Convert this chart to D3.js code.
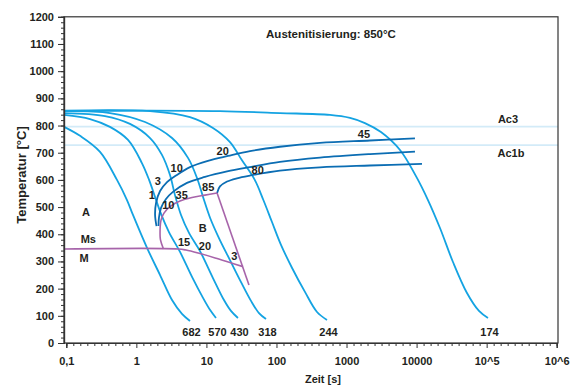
<!DOCTYPE html>
<html>
<head>
<meta charset="utf-8">
<script src="https://cdn.jsdelivr.net/npm/d3@7"></script>
<style>
  body { margin: 0; background: #fff; }
  text { font-family: "Liberation Sans", Arial, sans-serif; font-weight: bold; fill: #231f20; }
</style>
</head>
<body>
<svg id="chart"></svg>
<script>
// cooling curves (time s, temperature °C), labelled with hardness at the end
const hardness = ["682", "570", "430", "318", "244", "174"];

const t682 = [0.093, 0.157, 0.303, 0.529, 0.735, 0.895, 1.42, 2.18, 3.23, 4.48, 5.83];
const T682 = [795, 762, 703, 600, 526, 471, 350, 250, 158, 107, 81];
const t570 = [0.093, 0.218, 0.42, 0.76, 1.2, 1.52, 1.85, 2.25, 2.92, 4.2, 6.23, 8.94, 11.3, 13.7];
const T570 = [839, 824, 795, 747, 662, 600, 537, 475, 408, 335, 243, 166, 121, 92];
const t430 = [0.093, 0.357, 0.811, 1.57, 2.32, 3.02, 3.56, 4.34, 5.64, 8.1, 12.4, 17.8, 22.4, 28.2];
const T430 = [846, 835, 806, 754, 692, 618, 544, 471, 405, 338, 239, 158, 118, 92];
const t318 = [0.093, 0.42, 1.33, 3.23, 5.46, 7.34, 9.24, 11.3, 15.1, 21.7, 31.2, 43.3, 56.3, 70.9];
const T318 = [853, 846, 813, 754, 681, 607, 526, 460, 386, 305, 224, 155, 110, 88];
const t244 = [0.093, 1.57, 5.83, 12.4, 21.7, 32, 49, 65, 86.3, 116, 167, 255, 379, 526];
const T244 = [855, 853, 831, 791, 739, 673, 600, 526, 445, 361, 276, 188, 114, 85];
const t174 = [0.093, 1.57, 15.6, 112, 580, 1120, 1830, 3100, 5800, 9800, 14540, 21580, 33060, 52390, 77720, 104500];
const T174 = [853, 855, 853, 846, 839, 828, 809, 776, 710, 614, 526, 423, 298, 184, 118, 92];

// transformation lines
const tF1 = [1.94, 1.85, 1.91, 2.18, 2.74, 3.68, 5.83, 10.5, 20.3, 41.9, 112, 418, 2160, 9480];
const TF1 = [430, 471, 515, 559, 592, 616, 647, 670, 688, 706, 722, 736, 745, 753];
const tF2 = [2.07, 2.1, 2.25, 2.65, 3.33, 5.28, 9.54, 19.7, 41.9, 112, 418, 2160, 9480];
const TF2 = [430, 460, 497, 530, 556, 589, 611, 631, 647, 666, 682, 695, 704];
const tP = [14.2, 15.6, 19.7, 27.3, 41.9, 112, 418, 2160, 11940];
const TP = [552, 576, 594, 606, 616, 634, 646, 653, 659];

const tMs = [0.093, 3.93, 5.11, 8.1, 13.3, 21.7, 33.3];
const TMs = [346, 346, 342, 329, 313, 296, 281];
const tBs = [2.44, 2.21, 2.18, 2.25, 2.48, 3.02, 4.2, 6.23, 9.54, 14.2];
const TBs = [346, 379, 416, 452, 478, 502, 522, 535, 544, 552];
const tBf = [14.2, 40.5];
const TBf = [552, 213];

const Ac3 = 796;
const Ac1b = 728;

// percentages / region letters (time, temperature)
const noteText = ["1", "3", "10", "20", "45", "10", "35", "85", "80", "15", "20", "3", "A", "Ms", "M", "B"];
const noteT = [1.66, 2.02, 3.77, 17.1, 1775, 2.86, 4.44, 10.6, 54, 4.79, 9.54, 25, 0.191, 0.206, 0.179, 8.85];
const noteC = [545, 596, 643, 704, 769, 508, 545, 575, 636, 370, 358, 320, 483, 383, 312, 422];

const xTicks = [0.1, 1, 10, 100, 1000, 10000, 1e5, 1e6];
const xTickText = ["0,1", "1", "10", "100", "1000", "10000", "10^5", "10^6"];

const width = 575, height = 385;
const plotLeft = 64, plotRight = 558, plotTop = 16.8, plotBottom = 343;

const svg = d3.select("#chart").attr("width", width).attr("height", height);

const x = d3.scaleLog().domain([0.1, 1e6]).range([66.3, 556.7]);
const y = d3.scaleLinear().domain([0, 1200]).range([plotBottom, plotTop]);

const line = d3.line()
  .x(d => x(d[0]))
  .y(d => y(d[1]))
  .curve(d3.curveCatmullRom.alpha(0.5));

const pairs = (ts, Ts) => ts.map((t, i) => [t, Ts[i]]);

// Ac lines
svg.selectAll(".ac")
  .data([Ac3, Ac1b])
  .join("line")
  .attr("x1", plotLeft).attr("x2", plotRight)
  .attr("y1", d => y(d)).attr("y2", d => y(d))
  .style("stroke", "#d3ebf8")
  .style("stroke-width", 1.6);

const cooling = [
  pairs(t682, T682), pairs(t570, T570), pairs(t430, T430),
  pairs(t318, T318), pairs(t244, T244), pairs(t174, T174)
];

svg.append("g")
  .selectAll("path")
  .data(cooling)
  .join("path")
  .attr("d", line)
  .style("fill", "none")
  .style("stroke", "#14a3e2")
  .style("stroke-width", 1.8);

svg.append("g")
  .selectAll("path")
  .data([pairs(tF1, TF1), pairs(tF2, TF2), pairs(tP, TP)])
  .join("path")
  .attr("d", line)
  .style("fill", "none")
  .style("stroke", "#0b6db3")
  .style("stroke-width", 1.8);

svg.append("g")
  .selectAll("path")
  .data([pairs(tMs, TMs), pairs(tBs, TBs)])
  .join("path")
  .attr("d", line)
  .style("fill", "none")
  .style("stroke", "#a764aa")
  .style("stroke-width", 1.6);

svg.append("path")
  .datum(pairs(tBf, TBf))
  .attr("d", line.curve(d3.curveLinear))
  .style("fill", "none")
  .style("stroke", "#a764aa")
  .style("stroke-width", 1.6);

// frame
svg.append("rect")
  .attr("x", plotLeft).attr("y", plotTop)
  .attr("width", plotRight - plotLeft).attr("height", plotBottom - plotTop)
  .style("fill", "none")
  .style("stroke", "#333")
  .style("stroke-width", 1.2);

// axes
svg.append("g")
  .attr("transform", `translate(${plotLeft},0)`)
  .call(d3.axisLeft(y).tickValues(d3.range(0, 1201, 100)).tickSize(6).tickPadding(4)
    .tickFormat(d3.format("d")));
svg.append("g")
  .attr("transform", `translate(${plotLeft},0)`)
  .call(d3.axisLeft(y).tickValues(d3.range(0, 1201, 20)).tickSize(3).tickFormat(""));

const minor = [];
for (let k = -1; k < 6; k++) for (let i = 1; i < 10; i++) minor.push(Math.pow(10, k + i / 10));

svg.append("g")
  .attr("transform", `translate(0,${plotBottom})`)
  .call(d3.axisBottom(x).tickValues(minor).tickSize(3).tickFormat(""));
svg.append("g")
  .attr("transform", `translate(0,${plotBottom})`)
  .call(d3.axisBottom(x).tickValues(xTicks).tickSize(5).tickPadding(9)
    .tickFormat((d, i) => xTickText[i]));

svg.selectAll(".domain").style("stroke", "#333").style("stroke-width", 1.2);
svg.selectAll(".tick line").style("stroke", "#333");
svg.selectAll(".tick text")
  .style("font-size", "11px")
  .style("font-family", "'Liberation Sans', Arial, sans-serif")
  .style("font-weight", "bold")
  .style("fill", "#231f20");

// end labels of the cooling curves
svg.append("g")
  .selectAll("text")
  .data(cooling)
  .join("text")
  .attr("x", d => x(d[d.length - 1][0]) + 1.5)
  .attr("y", y(41))
  .attr("dy", "0.35em")
  .attr("text-anchor", "middle")
  .style("font-size", "11px")
  .text((d, i) => hardness[i]);

svg.append("g")
  .selectAll("text")
  .data(noteText)
  .join("text")
  .attr("x", (d, i) => x(noteT[i]))
  .attr("y", (d, i) => y(noteC[i]))
  .attr("dy", "0.35em")
  .attr("text-anchor", "middle")
  .style("font-size", "11px")
  .text(d => d);

svg.append("text")
  .attr("x", 508).attr("y", y(Ac3) - 7)
  .attr("dy", "0.35em").attr("text-anchor", "middle")
  .style("font-size", "11px").text("Ac3");
svg.append("text")
  .attr("x", 511).attr("y", y(Ac1b) + 8)
  .attr("dy", "0.35em").attr("text-anchor", "middle")
  .style("font-size", "11px").text("Ac1b");

svg.append("text")
  .attr("x", 331).attr("y", 33.5)
  .attr("dy", "0.35em").attr("text-anchor", "middle")
  .style("font-size", "11.5px")
  .text("Austenitisierung: 850°C");

svg.append("text")
  .attr("x", 323).attr("y", 379)
  .attr("dy", "0.35em").attr("text-anchor", "middle")
  .style("font-size", "11px")
  .text("Zeit [s]");

svg.append("text")
  .attr("transform", "translate(21,175) rotate(-90)")
  .attr("dy", "0.35em").attr("text-anchor", "middle")
  .style("font-size", "13px")
  .text("Temperatur [°C]");
</script>
</body>
</html>
